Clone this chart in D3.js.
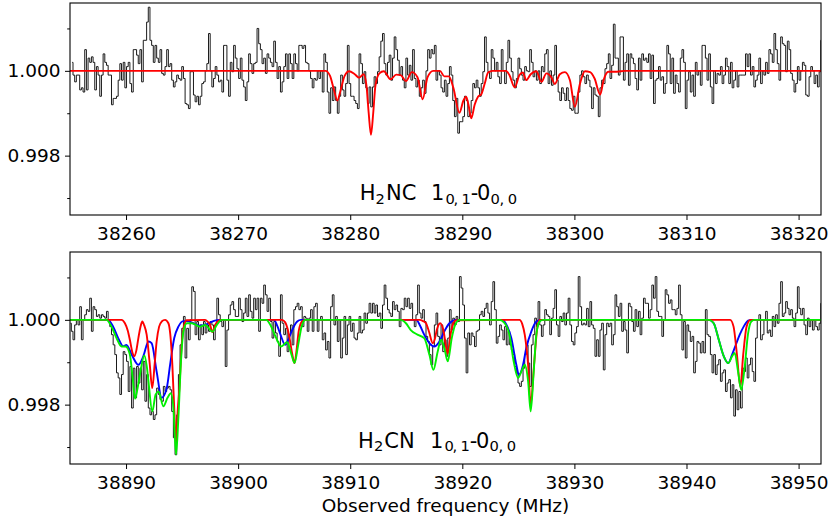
<!DOCTYPE html>
<html><head><meta charset="utf-8">
<script src="https://cdn.jsdelivr.net/npm/d3@7"></script>
<style>
html,body{margin:0;padding:0;background:#fff;}
svg{display:block;font-family:"DejaVu Sans",sans-serif;}
</style></head><body>
<svg id="chart" width="830" height="519"></svg>
<script>
// ---------------- data ----------------
const UNIT = 1e-4;               // observed values are deviations from 1.000, in units of 1e-4
const CHANNEL_WIDTH = 0.14925;   // MHz
const topStart = 38255.194;      // centre frequency of first channel (MHz)
const bottomStart = 38885.045;

const topObserved = [
2,-1,-2.6,-1,-1,-4.5,-4,-5,5,-4.5,
3,2,3.3,2,-4.5,1,-1,-6,-1,4,
2,1.3,-1,-1,-8,-6.5,-6.5,-6,-2.2,1.7,
-2.2,2,-4,1,2,-3,-5,5,5,3.7,
1.7,5,-2.6,7.2,7.2,11.5,15,7.2,6,2,
6,3,2,5,-0.6,-1,1,5,1,1.7,
-2.2,-3.8,-2.6,-1,-1.8,-2.2,1,-1.8,-7.7,-8,
-8.9,-0.2,-0.2,-5.7,-7.3,-6,-8,-6,-3,-2.6,
0,1.7,8.8,0,-3.8,-1.8,1,-1,-2.6,-2.2,
-5,6,6,-2.2,-6,2,-0.2,6,3,0.5,
-1.8,3,-2.2,-3.8,-7,-2.6,4,1.7,-0.6,1.7,
2,10,6.4,5,1.7,3,-0.6,4,3,2,
1,7,2,-1.8,1,-5,-2.6,1,4,-1.8,
4,1.7,-1.8,4,1.7,0,6,6,5.3,6,
2,1.7,0,-1.8,-4,-1.8,-2.2,0,
-1.8,0,-5,4,2,-5,-10,-4,-7,-3.8,
-7,-10,-6,-1,-4.5,-6,-3,6,-3,-6,
-6,-7,-7.7,-8.9,4,1.7,-3,-0.2,-4,-7.7,
-3.8,-8.5,-3.8,-1.4,-3,-0.2,3.3,7,8.8,1.7,
-1,2,3.7,-2.2,3,8,5,2.5,-1,1,
-2.2,-4,3,-1,1.3,-2.2,5,-1.8,-3.8,-2.2,
-6,-4,-2.2,-5.3,0,5,3,5,4,6,
-2.2,0,-1,-4,-5,-2.2,-6,-3,1,-1,
-7,-10.8,-6.5,-14.7,-12,-12,-10.8,-6,-7,-10.8,
-10,-7,-3,-4,-2.2,-4,-6,-3,-0.2,8,
2,-0.2,-1.8,5,3,0,2,-1.4,-3,5,
0,-3,2,7.2,3,-0.2,-2.2,-4,-1.8,3,
0.5,-1,-2.2,1,0,-0.2,5,2,-1.4,0,
-2.2,0,-3,1,-0.2,4,5,-3,0,-3.4,
-1,6,-2.2,-5,-7,-4,-5.3,-7,-4,-7,
-8.9,
-9.3,-6,-10,-10,-5,-1,0,-1.4,-3,-1,
-2.2,-3.8,-8.9,-4,-5.7,-6,-10.8,-4,-2.2,-3,
0.5,1.7,4,-1.8,1.3,11,3,3,-1,8,
8,-2.2,2,4,-3.4,4,3,1.7,-1.8,-4.5,
3,-2.2,4,2.5,3,2,4,-1.8,3.7,-7.7,
-2.2,-1.8,1,-2.2,-1.4,-5.3,-3,6,4,-3,
3,-5.3,-1,-3,-5,3,5,2,-8.9,-2.2,
-0.2,-5,-1,-6,2,-1,0,-3.4,6,6,
3,-2.2,4,-3.8,-7.7,0,-3,-0.6,-1,1,
-3,-1,3,1,-3,2,-4,-2.2,0,-3.8,
-1,-1,-1,-1,4,1,4,-1,1,-3.8,
-2.2,-1,3,-3,0,-1,2,-0.6,5,4,
2,8.8,5,1.7,-2.2,8,6.4,6,-0.2,7,
5,-0.6,-2.2,-5,-3,1,-2.2,0,2,1.3,
-5.7,-6,-1.4,1,0,-3,-1,-3.8,-0.2,7.2
];

const bottomObserved = [
-0.8,-2.7,-4.7,-1.2,0,-1.2,3.1,-4.7,0,1.2,
2.4,2,5.1,-2.7,3.1,2.4,0.8,1.2,0.4,1.2,
0.8,0.4,2,0,-1.6,-3.5,-5.9,-8.2,-12.5,-13.7,
-17.6,-12.9,-7.5,-8.2,-9.8,-16.9,-11,-20.8,-11.4,-18.4,
-11,-14.9,-11.4,-16.5,-9.8,-19.2,-12.9,-20.8,-22.4,-21.6,
-23.5,-22.4,-16.1,-17.6,-18.8,-19.2,-15.7,-16.9,-16.1,-15.7,
-16.5,-21.6,-27.8,-31.8,-22.4,-12.9,-5.9,-2,0.8,-9,
-2,-4.7,0,7.8,6.7,-3.5,-0.4,-4.7,-1.2,-3.5,
-0.4,-3.1,-1.2,-2.7,-0.4,-1.2,-4.7,-1.2,5.1,1.2,
-0.4,-1.6,0,-11,-2.4,1.2,3.5,4.3,2.4,0.8,
0.8,5.1,2.4,-0.4,1.6,5.1,0.8,5.9,2,0.4,
5.1,2.4,5.1,-2.7,5.1,3.9,8.2,5.9,2,5.1,
-0.4,-4.3,-0.4,-3.1,-5.1,-8.6,5.9,-0.8,-3.5,-2,
-7.5,-3.5,-1.2,-5.9,2.4,3.1,3.9,2.4,3.1,-1.6,
0.8,0.4,-2.7,0.4,2.4,-2.7,3.1,3.9,-2.7,0,
0.8,-4.7,-3.1,-7.1,-5.1,-9,3.1,5.9,-1.2,0.8,
-5.1,0,-9,-4.3,0.8,-8.2,-1.2,0.8,-2.7,-0.8,
-4.3,-4.7,-3.1,0.8,-3.1,-2.4,1.6,-0.8,1.6,3.9,
1.6,3.9,1.6,3.5,0.8,1.6,-2,3.5,8.2,5.1,
2.4,1.6,0.8,4.3,2.4,3.5,2,-1.6,2.7,2.4,
5.1,3.1,5.1,2.7,3.9,0,-1.6,1.2,8.2,1.6,
0.4,2.4,-0.4,-3.9,-5.1,-8.2,-10.6,-6.3,-1.2,1.6,
-3.9,-5.9,-1.2,-7.5,-4.7,-8.6,-4.3,2.4,-2.4,0.4,
-1.2,0.8,-0.4,10.2,7.5,3.5,-4.3,-12.5,-3.1,-5.9,
-3.1,-3.9,-6.3,-2.7,-2.4,1.2,2,0.8,2.7,3.9,
1.6,-1.2,4.3,9,2.4,-5.5,-3.9,-1.2,-2.4,-4.7,
-1.6,-5.9,-2.7,-5.9,-7.1,-8.2,-11,-12.5,-14.9,-15.7,
-14.5,-11.4,-8.2,-5.9,-10.2,-15.7,-5.9,-3.5,0.4,-1.6,
4.3,-1.2,-3.9,-1.2,2.4,1.2,0.8,-3.5,0.4,2.7,
7.1,-1.2,-3.9,0.8,-0.4,1.6,-1.2,1.6,5.1,-1.2,
-5.1,-5.9,-3.1,-1.6,10.2,3.1,-1.2,-0.8,-1.2,2.7,
-1.6,4.3,-1.2,-2,-8.6,-4.7,-8.6,-2.4,-0.8,-11.8,
-3.5,-0.8,-1.6,-0.8,-5.9,-3.5,5.9,3.1,0.8,3.9,
-2.7,-0.4,-2.4,-7.8,3.9,3.1,-0.4,-2.7,2.4,-1.6,
2,-3.5,0.4,5.1,3.9,3.9,0.4,2.4,8.2,5.1,
10.2,2,0.8,0.8,-3.9,0,7.1,5.9,3.9,4.7,
2.4,2.4,1.2,2.7,8.2,1.2,-7.1,-0.4,-9,-1.2,
-2.7,-5.1,-3.9,-12.5,-9.8,-5.1,-5.5,-7.8,-5.1,-7.8,
2.4,-3.5,-3.9,-8.2,-12.5,-8.2,-12.9,-10.6,-9.4,-14.5,
-12.5,-11.8,-16.9,-14.9,-14.1,-18.4,-15.3,-22.7,-16.5,-21.2,
-16.9,-20.8,-11.4,-12.2,-9,-13.7,-10.6,-9,-12.2,-14.5,
-4.3,0,1.2,-4.7,-3.5,0,2,-3.1,-2.4,-3.9,
0.8,-1.6,1.2,-0.8,3.9,9,0.8,1.6,4.3,2.7,
1.2,2.4,0.4,-1.6,1.6,7.8,2.7,1.2,2.7,-1.2,
-3.5,0.4,-1.6,0,-2.4,0,-1.6,-2.4,-0.8,3.9
];

// model curves: [frequency (MHz), deviation (1e-4)]
const topRed = [
[38255,0],[38277.8,0],[38278.2,-1.2],[38278.55,-4.5],[38278.85,-7],[38279.15,-4.5],[38279.5,-1.2],
[38279.9,-0.1],[38280.4,-0.8],[38280.8,-1.6],[38281.2,-0.8],[38281.45,-3.5],[38281.65,-10],
[38281.85,-15.1],[38282.05,-10],[38282.25,-3.5],[38282.6,-0.6],[38283.0,-0.1],[38283.6,-2],
[38284.1,-0.9],[38284.5,-1],[38284.97,-2.4],[38285.5,-0.3],[38286.0,-1.5],[38286.46,-6.7],
[38286.9,-1.5],[38287.4,0],[38288.0,0],[38288.4,-1.3],[38288.8,-1.3],[38289.2,-4],[38289.74,-9.9],
[38290.1,-7],[38290.34,-6.1],[38290.55,-8],[38290.8,-11.2],[38291.1,-8],[38291.4,-6.1],[38291.7,-5.5],
[38292.0,-3],[38292.3,-0.4],[38292.7,0],[38293.9,0],[38294.2,-1],[38294.67,-3.9],[38295.1,-1],
[38295.4,-0.4],[38295.7,-2.2],[38296.1,-0.8],[38296.6,-0.1],[38297.06,-2.6],[38297.5,-0.6],
[38297.96,-1.6],[38298.25,-3.1],[38298.7,-0.8],[38299.15,-0.3],[38299.6,-2.2],[38300.04,-8.5],
[38300.5,-3],[38300.94,-0.1],[38301.4,-0.3],[38301.8,-1.8],[38302.3,-5.6],[38302.6,-2.2],
[38303.03,-0.2],[38303.8,-0.2],[38304.5,0],[38322,0]
];

const bottomRed = [
[38885,0],[38889.6,0],[38889.9,-0.8],[38890.15,-2.5],[38890.34,-4.7],[38890.55,-7.5],[38890.73,-8.6],
[38890.92,-7.2],[38891.1,-4.3],[38891.3,-1.5],[38891.45,-0.4],[38891.62,-1.3],[38891.84,-3.5],
[38892.1,-10],[38892.34,-16.1],[38892.55,-10.5],[38892.73,-5.1],[38892.95,-1.6],[38893.18,-0.4],
[38893.48,0],[38893.78,-0.8],[38893.95,-3.5],[38894.13,-10.6],[38894.3,-21],[38894.46,-28.6],
[38894.62,-21],[38894.76,-16.1],[38894.95,-6.5],[38895.12,-2],[38895.4,-0.1],[38897.06,0],
[38897.3,-0.5],[38897.5,-1.2],[38897.7,-2.9],[38897.95,-1.2],[38898.2,-0.3],[38898.4,0],
[38903.9,0],[38904.2,-0.6],[38904.4,-2],[38904.6,-4.5],[38904.82,-8],[38905.03,-10.2],
[38905.22,-7],[38905.4,-2.7],[38905.7,-0.4],[38906.0,0],
[38916.2,0],[38916.5,-0.3],[38916.76,-0.8],[38917.05,-3],[38917.36,-5.5],[38917.55,-4.5],
[38917.72,-2.4],[38918.02,-0.8],[38918.31,-2.4],[38918.5,-5.5],[38918.7,-8],[38918.85,-5.5],
[38919.0,-2.7],[38919.2,-0.8],[38919.45,-0.1],[38925.1,0],[38925.35,-1],[38925.57,-3.5],
[38925.87,-10.6],[38926.1,-20],[38926.4,-10.6],[38926.7,-1.6],[38926.9,0],
[38943.9,0],[38944.2,-1.6],[38944.5,-8.2],[38944.8,-15.7],[38945.06,-8.2],[38945.36,-1.6],
[38945.7,0],[38952,0]
];

const bottomBlue = [
[38885,0],[38888.4,0],[38888.85,-1.6],[38889.3,-4.3],[38889.75,-6.2],[38890.04,-5.9],[38890.5,-8.2],
[38891.1,-10.6],[38891.54,-8.6],[38892.0,-5.1],[38892.28,-5.5],[38892.73,-12.2],[38893.18,-18.4],
[38893.63,-16.1],[38893.93,-10.6],[38894.3,-4.3],[38894.67,-1.6],[38895.1,-0.3],[38895.5,-0.3],
[38896.0,-0.8],[38896.6,-1.4],[38897.2,-1],[38897.8,-0.3],[38898.3,0],
[38903.2,0],[38903.5,-1.5],[38903.78,-3.5],[38904.2,-5.9],[38904.5,-4.5],[38904.82,-2.4],
[38905.27,-0.4],[38905.6,0],
[38915.9,0],[38916.2,-1.2],[38916.6,-3.5],[38917.06,-5.5],[38917.5,-6.3],[38917.96,-5.1],
[38918.4,-2.7],[38918.85,-0.8],[38919.45,0],
[38923.6,0],[38924.0,-1.5],[38924.37,-4.3],[38924.82,-10.6],[38925.05,-13],[38925.42,-10.6],
[38925.7,-6.7],[38926.16,-2.7],[38926.6,-0.4],[38927.0,0],
[38942.0,0],[38942.43,-0.8],[38942.88,-4.7],[38943.33,-8.6],[38943.72,-10.2],[38944.07,-8.2],
[38944.4,-5.9],[38944.75,-3.5],[38945.1,-1.6],[38945.5,-0.2],[38945.8,0],[38952,0]
];

const bottomGreen = [
[38885,0],[38888.25,0],[38888.7,-1.6],[38889.15,-4.3],[38889.6,-6.3],[38889.96,-6.3],[38890.34,-8.2],
[38890.6,-14],[38890.8,-18.6],[38891.0,-16.5],[38891.24,-12.9],[38891.63,-8.4],[38891.85,-11],
[38892.0,-14.5],[38892.34,-21.6],[38892.64,-17.6],[38892.9,-16.9],[38893.33,-20.4],[38893.7,-18.4],
[38894.0,-17.3],[38894.25,-21.6],[38894.46,-31.8],[38894.67,-23.1],[38894.9,-9.8],[38895.12,-2.7],
[38895.42,-0.8],[38895.87,-0.8],[38896.6,-1.6],[38897.06,-1.2],[38897.7,-2.8],[38898.1,-1.2],
[38898.55,0],
[38902.5,0],[38902.88,-1.2],[38903.33,-3.9],[38903.84,-6.3],[38904.37,-5.3],[38904.76,-8.2],
[38905.03,-10.2],[38905.36,-5.9],[38905.66,-1.6],[38906.0,0],
[38914.5,0],[38914.97,-0.8],[38915.4,-2.4],[38916.0,-3.5],[38916.6,-4.3],[38917.06,-8.2],
[38917.42,-11.8],[38917.8,-7.5],[38918.1,-4.7],[38918.4,-6.7],[38918.7,-9.8],[38919.06,-4.3],
[38919.36,-1.2],[38919.75,0],
[38923.3,0],[38923.78,-0.8],[38924.2,-3.5],[38924.58,-9.8],[38924.97,-13.7],[38925.33,-11.8],
[38925.57,-10.6],[38925.87,-14.5],[38926.1,-21.6],[38926.37,-12.2],[38926.6,-3.5],[38926.9,-0.4],
[38927.2,0],
[38942.0,0],[38942.43,-0.8],[38942.88,-4.7],[38943.33,-8.6],[38943.72,-10.2],[38944.07,-8.6],
[38944.3,-7.8],[38944.6,-12.2],[38944.88,-16.5],[38945.18,-11.4],[38945.48,-3.5],[38945.78,-0.4],
[38946.1,0],[38952,0]
];

const xTicksTop = [38260,38270,38280,38290,38300,38310,38320];
const xTicksBottom = [38890,38900,38910,38920,38930,38940,38950];
const yMajorTicks = [0.998, 1.000];
const yMinorTicks = [0.997, 0.999, 1.001];
const yDomain = [0.9966, 1.0016];
const xLabel = "Observed frequency (MHz)";

// label pieces: [text, isSubscript, x]
const topLabel = [["H",0,359.8],["2",1,375.6],["NC",0,386],["1",0,431],["0",1,445.5],[",",1,453.6],["1",1,461.5],
  ["-",0,470.7],["0",0,477],["0",1,490.6],[",",1,499.6],["0",1,507.8]];
const bottomLabel = [["H",0,358.1],["2",1,373.9],["CN",0,384.3],["1",0,430],["0",1,444.5],[",",1,452.6],["1",1,460.5],
  ["-",0,469.7],["0",0,476],["0",1,489.6],[",",1,498.6],["0",1,506.8]];

// ---------------- drawing ----------------
const svg = d3.select("#chart");
const FS = 18.5;

const panels = [
  {x0:70, x1:821, y0:3, y1:215, domain:[38255,38322], ticks:xTicksTop, start:topStart, obs:topObserved,
   models:[{d:topRed,c:"#ff0000"}], label:topLabel, labelY:200},
  {x0:70, x1:821, y0:252, y1:464, domain:[38885,38952], ticks:xTicksBottom, start:bottomStart, obs:bottomObserved,
   models:[{d:bottomBlue,c:"#0000ff"},{d:bottomRed,c:"#ff0000"},{d:bottomGreen,c:"#00f000"}], label:bottomLabel, labelY:447.7}
];

panels.forEach((p,i)=>{
  const x = d3.scaleLinear().domain(p.domain).range([p.x0,p.x1]);
  const y = d3.scaleLinear().domain(yDomain).range([p.y1,p.y0]);
  const g = svg.append("g");
  const cid = "clip"+i;
  svg.append("clipPath").attr("id",cid).append("rect")
    .attr("x",p.x0).attr("y",p.y0).attr("width",p.x1-p.x0).attr("height",p.y1-p.y0);
  const plot = g.append("g").attr("clip-path",`url(#${cid})`);

  const obsPts = p.obs.map((v,k)=>[p.start + k*CHANNEL_WIDTH, 1 + v*UNIT]);
  plot.append("path").datum(obsPts)
    .attr("d", d3.line().x(d=>x(d[0])).y(d=>y(d[1])).curve(d3.curveStep))
    .attr("fill","none").attr("stroke","#1a1a1a").attr("stroke-width",1);

  p.models.forEach(m=>{
    plot.append("path").datum(m.d)
      .attr("d", d3.line().x(d=>x(d[0])).y(d=>y(1 + d[1]*UNIT)).curve(d3.curveMonotoneX))
      .attr("fill","none").attr("stroke",m.c).attr("stroke-width",1.9)
      .attr("stroke-linejoin","round");
  });

  // axes
  const xa = g.append("g").attr("transform",`translate(0,${p.y1})`)
    .call(d3.axisBottom(x).tickValues(p.ticks).tickSize(5).tickPadding(7.2).tickFormat(d3.format("d")));
  const ya = g.append("g").attr("transform",`translate(${p.x0},0)`)
    .call(d3.axisLeft(y).tickValues(yMajorTicks).tickSize(5).tickPadding(4.5).tickFormat(d3.format(".3f")));
  const ym = g.append("g").attr("transform",`translate(${p.x0},0)`)
    .call(d3.axisLeft(y).tickValues(yMinorTicks).tickSize(2.8).tickFormat(""));
  [xa,ya,ym].forEach(a=>{
    a.select(".domain").remove();
    a.selectAll("line").attr("stroke","#000").attr("stroke-width",1);
    a.selectAll("text").attr("font-family","DejaVu Sans").attr("font-size",FS).attr("fill","#000");
  });

  g.append("rect").attr("x",p.x0).attr("y",p.y0).attr("width",p.x1-p.x0).attr("height",p.y1-p.y0)
    .attr("fill","none").attr("stroke","#000").attr("stroke-width",1.1);

  const t = g.append("text").attr("font-size",21).attr("fill","#000").style("white-space","pre");
  p.label.forEach(([s,sub,xx])=>{
    t.append("tspan").attr("x",xx).attr("y", sub ? p.labelY+3.5 : p.labelY)
      .attr("font-size", sub ? 14.7 : 21).text(s);
  });
});

svg.append("text").attr("x",445.5).attr("y",511.7).attr("text-anchor","middle")
  .attr("font-size",FS).attr("fill","#000").text(xLabel);
</script>
</body></html>
